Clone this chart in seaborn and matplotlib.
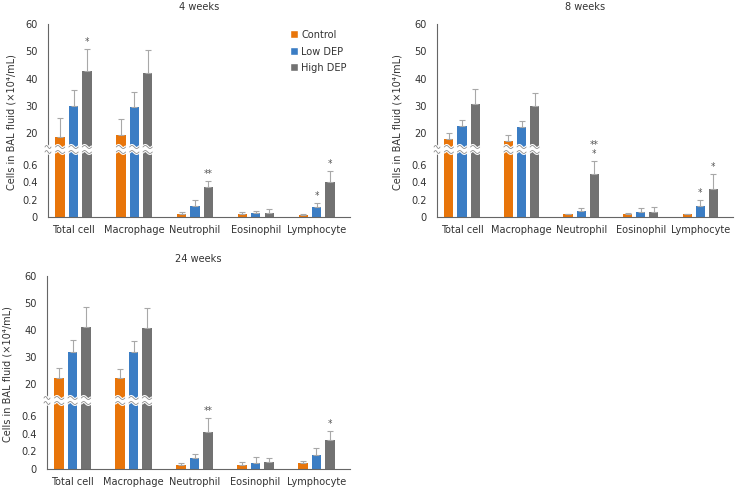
import numpy as np
import pandas as pd
import seaborn as sns
import matplotlib.pyplot as plt
from matplotlib.patches import Patch
from matplotlib.transforms import blended_transform_factory

cells = ["Total cell", "Macrophage", "Neutrophil", "Eosinophil", "Lymphocyte"]
groups = ["Control", "Low DEP", "High DEP"]
colors = ["#E8750A", "#3B7DC4", "#727272"]

# means (rows = Control, Low DEP, High DEP)
w4_mean = [[18.5, 19.3, 0.04, 0.04, 0.02],
           [29.9, 29.6, 0.13, 0.05, 0.12],
           [42.8, 42.0, 0.35, 0.05, 0.40]]
w4_sd = [[7.0, 5.9, 0.02, 0.02, 0.015],
         [5.8, 5.4, 0.07, 0.02, 0.045],
         [8.2, 8.4, 0.06, 0.04, 0.13]]
w4_stars = [("Total cell", "High DEP", "*"), ("Neutrophil", "High DEP", "**"),
            ("Lymphocyte", "Low DEP", "*"), ("Lymphocyte", "High DEP", "*")]

w8_mean = [[17.8, 17.3, 0.03, 0.03, 0.03],
           [22.7, 22.3, 0.07, 0.06, 0.13],
           [30.9, 29.9, 0.50, 0.06, 0.32]]
w8_sd = [[2.2, 2.1, 0.01, 0.015, 0.008],
         [2.2, 2.3, 0.03, 0.04, 0.07],
         [5.2, 4.9, 0.15, 0.06, 0.18]]
w8_stars = [("Neutrophil", "High DEP", "**\n*"),
            ("Lymphocyte", "Low DEP", "*"), ("Lymphocyte", "High DEP", "*")]

w24_mean = [[22.4, 22.4, 0.04, 0.04, 0.07],
            [31.9, 31.9, 0.12, 0.07, 0.16],
            [41.1, 40.7, 0.42, 0.08, 0.33]]
w24_sd = [[3.5, 3.2, 0.03, 0.045, 0.025],
          [4.5, 4.2, 0.045, 0.065, 0.075],
          [7.3, 7.5, 0.16, 0.05, 0.105]]
w24_stars = [("Neutrophil", "High DEP", "**"), ("Lymphocyte", "High DEP", "*")]

sns.set_style("white")
plt.rcParams["font.family"] = ["DejaVu Sans"]
plt.rcParams["font.stretch"] = "condensed"
plt.rcParams["font.size"] = 7.8

fig = plt.figure(figsize=(7.38, 4.9), dpi=100)

W = 738
H = 490
FS = 7.8
TXT = "#333333"


def frame(df_mean, df_sd):
    rows = []
    for g, m, s in zip(groups, df_mean, df_sd):
        for c, v, e in zip(cells, m, s):
            rows.append({"cell": c, "group": g, "value": v, "sd": e})
    return pd.DataFrame(rows)


def wave(ax, x0, x1, y, trans, amp):
    xs = np.linspace(x0, x1, 40)
    ys = y + amp * np.sin((xs - x0) / (x1 - x0) * 2 * np.pi)
    ax.plot(xs, ys, color="white", lw=2.2, transform=trans, clip_on=False, zorder=5)
    ax.plot(xs, ys, color="#8c8c8c", lw=0.6, transform=trans, clip_on=False, zorder=6)


def panel(left, right, top_px, brk_top, brk_bot, bottom_px, title, mean, sd, stars, legend=False):
    ax_t = fig.add_axes([left / W, 1 - brk_top / H, (right - left) / W, (brk_top - top_px) / H])
    ax_b = fig.add_axes([left / W, 1 - bottom_px / H, (right - left) / W, (bottom_px - brk_bot) / H])
    df = frame(mean, sd)
    bars = {}
    for ax in (ax_t, ax_b):
        sns.barplot(data=df, x="cell", y="value", hue="group", hue_order=groups,
                    palette=colors, width=0.66, gap=0.3, errorbar=None,
                    legend=False, ax=ax, saturation=1, linewidth=0)
        bars[ax] = list(ax.containers)
        for cont, g in zip(bars[ax], groups):
            sub = df[df["group"] == g]
            xs = [p.get_x() + p.get_width() / 2 for p in cont]
            hs = [p.get_height() for p in cont]
            ax.errorbar(xs, hs, yerr=[np.zeros(len(hs)), sub["sd"].values], fmt="none",
                        ecolor="#a8a8a8", elinewidth=0.8, capsize=2.2, capthick=0.8, zorder=1)
        ax.set_xlim(-0.42, 4.55)
        ax.set_xlabel("")
        ax.set_ylabel("")
        for sp in ("top", "right"):
            ax.spines[sp].set_visible(False)
        ax.spines["left"].set_color("#666666")
        ax.spines["bottom"].set_color("#666666")
        ax.spines["left"].set_linewidth(0.8)
        ax.spines["bottom"].set_linewidth(0.8)
        ax.tick_params(axis="y", length=2.5, width=0.8, color="#666666", pad=5, labelsize=FS,
                       labelcolor=TXT)
        ax.tick_params(axis="x", length=0, pad=6, labelsize=FS, labelcolor=TXT)

    ax_t.set_ylim(15, 60)
    ax_t.set_yticks([20, 30, 40, 50, 60])
    ax_t.spines["bottom"].set_visible(False)
    ax_t.set_xticks([])
    ax_b.set_ylim(0, 0.75)
    ax_b.set_yticks([0, 0.2, 0.4, 0.6])
    ax_b.set_yticklabels(["0", "0.2", "0.4", "0.6"])

    # break marks over the tall bars and the spine
    for ax, ybrk, amp in ((ax_t, 0.0, 0.012), (ax_b, 1.0, 0.022)):
        tr = blended_transform_factory(ax.transData, ax.transAxes)
        for cont in bars[ax]:
            for p in cont:
                if p.get_height() > 0.75:
                    wave(ax, p.get_x(), p.get_x() + p.get_width(), ybrk, tr, amp)
        wave(ax, -0.47, -0.37, ybrk, tr, amp)

    ax_t.set_title(title, fontsize=FS, pad=10, color=TXT)

    # significance marks
    for c, g, s in stars:
        i = cells.index(c)
        j = groups.index(g)
        p = bars[ax_b][j][i]
        top = mean[j][i] + sd[j][i]
        target = ax_t if top > 15 else ax_b
        target.annotate(s, (p.get_x() + p.get_width() / 2, top), xytext=(0, 1.5),
                        textcoords="offset points", ha="center", va="bottom",
                        fontsize=7, color="#555555", linespacing=0.8, annotation_clip=False)

    if legend:
        handles = [Patch(facecolor=c, label=g) for c, g in zip(colors, groups)]
        ax_t.legend(handles=handles, loc="upper left", bbox_to_anchor=(0.77, 1.03),
                    frameon=False, handlelength=0.7, handleheight=0.7,
                    handletextpad=0.3, labelspacing=0.6, fontsize=FS,
                    labelcolor=TXT)
    return ax_t, ax_b


panel(48, 350, 24, 147, 152, 217, "4 weeks", w4_mean, w4_sd, w4_stars, legend=True)
panel(437, 733, 24, 147, 152, 217, "8 weeks", w8_mean, w8_sd, w8_stars)
panel(47, 350, 276, 398, 403, 469, "24 weeks", w24_mean, w24_sd, w24_stars)

ylab = "Cells in BAL fluid (×10⁴/mL)"
fig.text(12 / W, 1 - 122 / H, ylab, rotation=90, ha="center", va="center", fontsize=FS,
         color=TXT)
fig.text(397 / W, 1 - 122 / H, ylab, rotation=90, ha="center", va="center", fontsize=FS,
         color=TXT)
fig.text(8 / W, 1 - 374 / H, ylab, rotation=90, ha="center", va="center", fontsize=FS,
         color=TXT)

fig.savefig("out.png", dpi=100)
